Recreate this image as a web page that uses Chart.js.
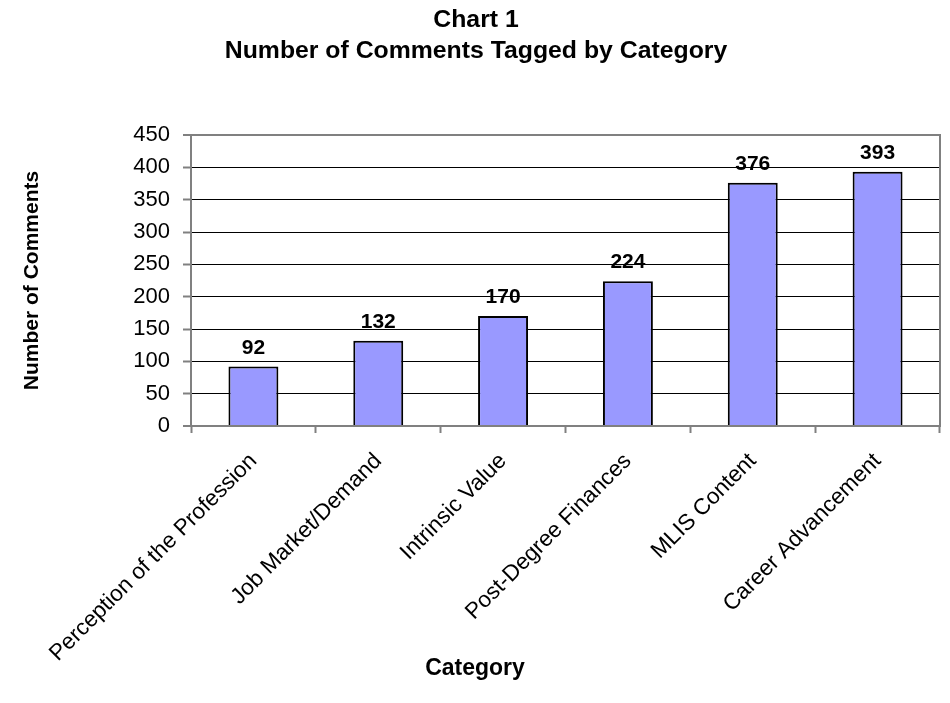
<!DOCTYPE html>
<html>
<head>
<meta charset="utf-8">
<script src="https://cdn.jsdelivr.net/npm/chart.js@4/dist/chart.umd.min.js"></script>
<style>
html,body{margin:0;padding:0;background:#fff;}
#wrap{width:950px;height:703px;}
</style>
</head>
<body>
<div id="wrap"><canvas id="c" width="950" height="703"></canvas></div>
<script>
const titleLines = ['Chart 1', 'Number of Comments Tagged by Category'];
const categories = ['Perception of the Profession', 'Job Market/Demand', 'Intrinsic Value', 'Post-Degree Finances', 'MLIS Content', 'Career Advancement'];
const comments = [92, 132, 170, 224, 376, 393];
const yMin = 0, yMax = 450, yStep = 50;
const xTitle = 'Category';
const yTitle = 'Number of Comments';

const FONT = "'Liberation Sans', Arial, sans-serif";
const GRAY = '#808080';

const valueLabels = {
  id: 'valueLabels',
  afterDatasetsDraw(chart) {
    const ctx = chart.ctx;
    const meta = chart.getDatasetMeta(0);
    ctx.save();
    ctx.font = "bold 21px " + FONT;
    ctx.fillStyle = '#000';
    ctx.textAlign = 'center';
    ctx.textBaseline = 'bottom';
    meta.data.forEach((bar, i) => {
      ctx.fillText(String(chart.data.datasets[0].data[i]), bar.x, bar.y - 8);
    });
    ctx.restore();
  }
};

const frame = {
  id: 'frame',
  afterDraw(chart) {
    const a = chart.chartArea;
    const ctx = chart.ctx;
    ctx.save();
    ctx.strokeStyle = GRAY;
    ctx.lineWidth = 2;
    ctx.beginPath();
    ctx.moveTo(a.left, a.top);
    ctx.lineTo(a.right, a.top);
    ctx.lineTo(a.right, a.bottom);
    ctx.stroke();
    // x-axis title, centred on the whole chart as in the reference
    ctx.font = "bold 23px " + FONT;
    ctx.fillStyle = '#000';
    ctx.textAlign = 'center';
    ctx.textBaseline = 'middle';
    ctx.fillText(xTitle, chart.width / 2, 669);
    ctx.restore();
  }
};

new Chart(document.getElementById('c'), {
  type: 'bar',
  data: {
    labels: categories,
    datasets: [{
      data: comments,
      backgroundColor: '#9999FF',
      borderColor: '#000',
      borderWidth: 2,
      borderSkipped: 'bottom',
      barPercentage: 0.4,
      categoryPercentage: 1.0
    }]
  },
  options: {
    responsive: false,
    devicePixelRatio: 1,
    animation: false,
    layout: { padding: { left: 12, right: 10, top: 0, bottom: 0 } },
    plugins: {
      legend: { display: false },
      tooltip: { enabled: false },
      title: {
        display: true,
        text: titleLines,
        color: '#000',
        font: { family: FONT, size: 24.8, weight: 'bold', lineHeight: 1.25 },
        padding: { top: 5, bottom: 68 }
      }
    },
    scales: {
      x: {
        afterFit(s) { s.height = 277; },
        grid: {
          offset: true,
          drawOnChartArea: false,
          drawTicks: true,
          tickLength: 7,
          tickColor: GRAY,
          tickWidth: 2,
          color: GRAY
        },
        border: { display: true, color: GRAY, width: 2 },
        ticks: {
          color: '#000',
          font: { family: FONT, size: 22.5 },
          maxRotation: 45,
          minRotation: 45,
          padding: 15,
          autoSkip: false
        }
      },
      y: {
        min: yMin,
        max: yMax,
        afterFit(s) { s.width = 179; },
        grid: {
          color: ctx => (ctx.tick && (ctx.tick.value === yMin || ctx.tick.value === yMax)) ? GRAY : '#000',
          lineWidth: ctx => (ctx.tick && (ctx.tick.value === yMin || ctx.tick.value === yMax)) ? 2 : 1,
          drawTicks: true,
          tickLength: 8,
          tickColor: GRAY,
          tickWidth: 2
        },
        border: { display: true, color: GRAY, width: 2 },
        ticks: {
          stepSize: yStep,
          color: '#000',
          font: { family: FONT, size: 22 },
          padding: 13
        },
        title: {
          display: true,
          text: yTitle,
          color: '#000',
          font: { family: FONT, size: 21, weight: 'bold', lineHeight: 1.2 },
          padding: { top: 8, bottom: 0 }
        }
      }
    }
  },
  plugins: [valueLabels, frame]
});
</script>
</body>
</html>
